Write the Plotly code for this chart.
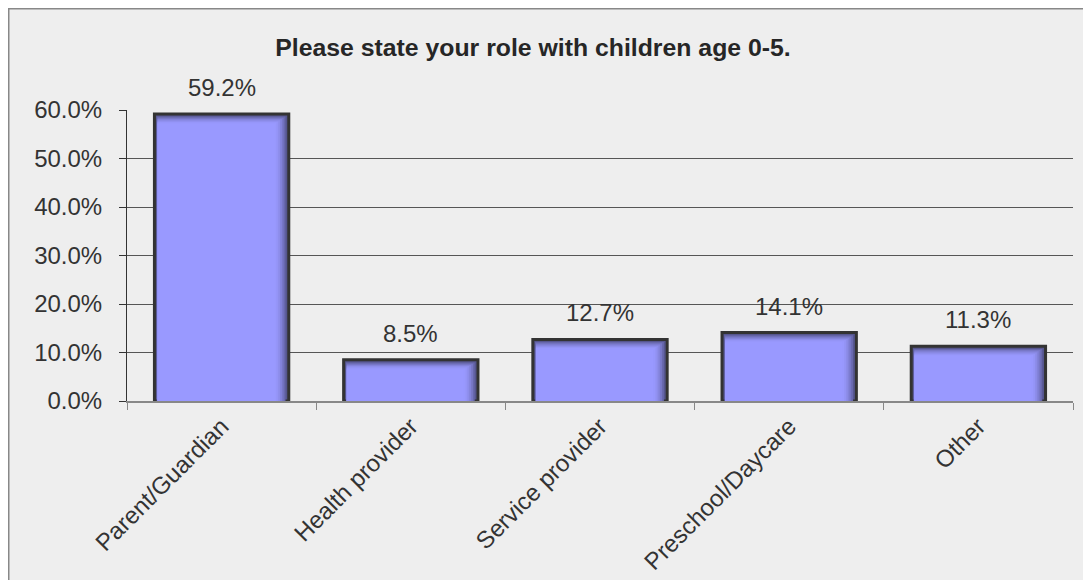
import plotly.graph_objects as go

categories = ["Parent/Guardian", "Health provider", "Service provider", "Preschool/Daycare", "Other"]
values = [59.2, 8.5, 12.7, 14.1, 11.3]
labels = ["59.2%", "8.5%", "12.7%", "14.1%", "11.3%"]
y_ticks = [0, 10, 20, 30, 40, 50, 60]
y_tick_text = ["0.0%", "10.0%", "20.0%", "30.0%", "40.0%", "50.0%", "60.0%"]
title_text = "Please state your role with children age 0-5."

W, H = 1083, 572
ml, mr, mt, mb = 119, 18, 102, 179
pw = W - ml - mr
ph = H - mt - mb
YMAX = 60
px_x = pw / len(categories)      # pixels per category unit
px_y = ph / YMAX                 # pixels per value unit
BW = 0.71

FONT = "Liberation Sans, Arial, sans-serif"


def mix(c1, c2, t):
    a = [int(c1[i:i + 2], 16) for i in (1, 3, 5)]
    b = [int(c2[i:i + 2], 16) for i in (1, 3, 5)]
    return "#" + "".join(f"{round(x + (y - x) * t):02x}" for x, y in zip(a, b))


EDGE, FILL = "#56568f", "#9999ff"

fig = go.Figure()
# base bar with border
fig.add_trace(go.Bar(
    x=categories, y=values, offset=-BW / 2, width=BW,
    marker=dict(color=EDGE, line=dict(color="#333333", width=3)),
    hoverinfo="skip",
))
# inner-shadow layers (gradient toward the right and top edges)
N = 7
for k in range(1, N + 1):
    t = k / N
    col = mix(EDGE, FILL, 1 - (1 - t) ** 2)
    r_in = 1.5 + k * 1.8
    t_in = 1.5 + k * 1.2
    l_in = 1.5 + min(k, 2) * 0.8
    fig.add_trace(go.Bar(
        x=categories, y=[v - t_in / px_y for v in values],
        offset=-BW / 2 + l_in / px_x, width=BW - (l_in + r_in) / px_x,
        marker=dict(color=col, line=dict(width=0)),
        hoverinfo="skip",
    ))

for c, v, t in zip(categories, values, labels):
    fig.add_annotation(x=c, y=v, text=t, showarrow=False, yanchor="bottom",
                       yshift=11, font=dict(family=FONT, size=24, color="#333333"))

fig.add_shape(type="rect", xref="paper", yref="paper",
              x0=-ml / pw, x1=(W - ml + 20) / pw,
              y0=-(mb + 20) / ph, y1=(ph + mt) / ph,
              line=dict(color="#888888", width=3), fillcolor="rgba(0,0,0,0)", layer="below")

fig.update_layout(
    width=W, height=H,
    margin=dict(l=ml, r=mr, t=mt, b=mb, pad=0),
    paper_bgcolor="#eeeeee", plot_bgcolor="#eeeeee",
    showlegend=False,
    barmode="overlay",
    font=dict(family=FONT, color="#333333"),
    title=dict(text="<b>" + title_text + "</b>", x=(533 - 8) / W, xanchor="center",
               y=1 - (47 - 8) / H, yanchor="middle",
               font=dict(family=FONT, size=24.8, color="#262626")),
)
fig.update_yaxes(
    range=[0, YMAX], tickvals=y_ticks, ticktext=y_tick_text,
    showgrid=True, gridcolor="#555555", gridwidth=1,
    showline=True, linecolor="#333333", linewidth=1,
    ticks="outside", ticklen=7, tickcolor="#333333",
    tickfont=dict(family=FONT, size=24, color="#333333"),
    ticklabelstandoff=12, zeroline=False, fixedrange=True,
)
fig.update_xaxes(
    showline=True, linecolor="#888888", linewidth=1.5,
    ticks="outside", ticklen=7, tickcolor="#888888", tickson="boundaries",
    tickangle=-45, tickfont=dict(family=FONT, size=24, color="#333333"),
    fixedrange=True, automargin=False,
)

fig.write_html("out.html")
